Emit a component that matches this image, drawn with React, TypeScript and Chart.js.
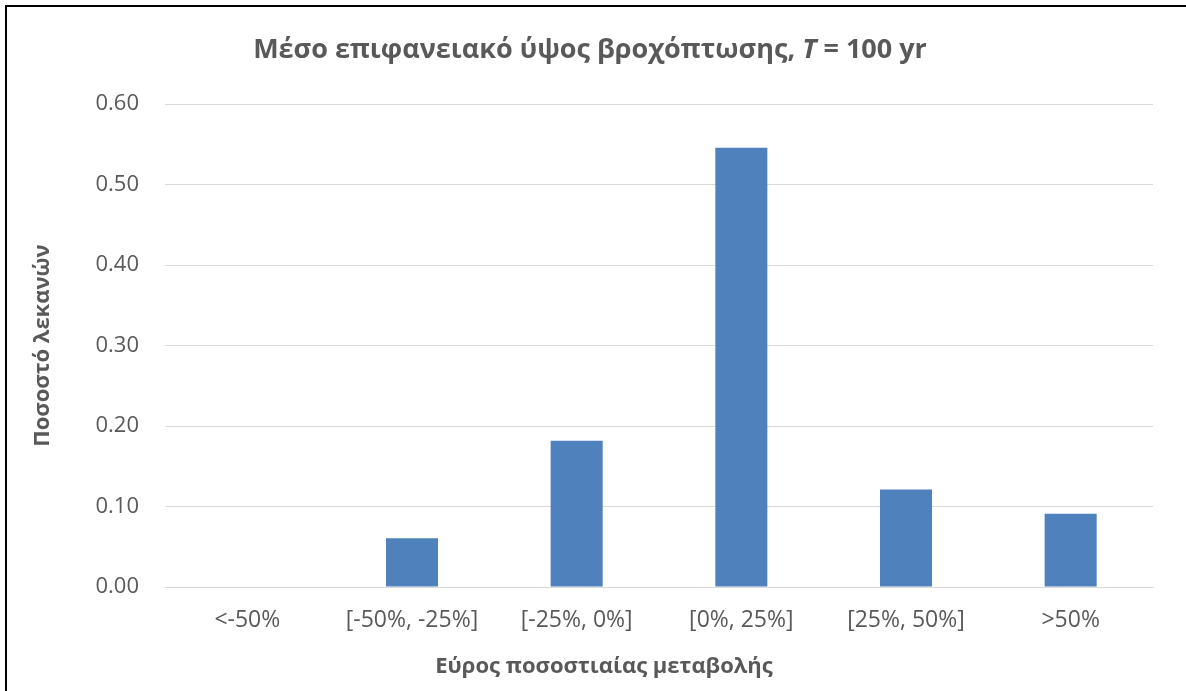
import React, { useEffect, useRef } from "react";
import { Chart, registerables } from "chart.js";

Chart.register(...registerables);

// Share of basins per range of percentage change
const categories = ["<-50%", "[-50%, -25%]", "[-25%, 0%]", "[0%, 25%]", "[25%, 50%]", ">50%"];
const basinShare = [0, 0.0606, 0.1818, 0.5455, 0.1212, 0.0909];
const yTickValues = [0, 0.1, 0.2, 0.3, 0.4, 0.5, 0.6];
const yTickLabels = ["0.00", "0.10", "0.20", "0.30", "0.40", "0.50", "0.60"];

const titleParts = [
  { text: "Μέσο επιφανειακό ύψος βροχόπτωσης, ", italic: false },
  { text: "T", italic: true },
  { text: " = 100 yr", italic: false },
];
const xAxisTitle = "Εύρος ποσοστιαίας μεταβολής";
const yAxisTitle = "Ποσοστό λεκανών";

const FONT = "'Open Sans', 'Noto Sans', sans-serif";
const TEXT = "#595959";
const BAR = "#4F81BD";
const GRID = "#D9D9D9";

const framePlugin = {
  id: "frame",
  beforeDraw(chart: any) {
    const { ctx, width, height } = chart;
    ctx.save();
    ctx.fillStyle = "#ffffff";
    ctx.fillRect(0, 0, width, height);
    ctx.restore();
  },
  afterDraw(chart: any) {
    const { ctx, width, height } = chart;
    ctx.save();
    // frame lines (top and left)
    ctx.fillStyle = "#000000";
    ctx.fillRect(5, 5, width - 5, 2);
    ctx.fillRect(5, 5, 2, height - 5);

    // chart title with italic T
    ctx.fillStyle = TEXT;
    ctx.textBaseline = "alphabetic";
    ctx.textAlign = "left";
    const size = 27;
    const fontFor = (italic: boolean) => `${italic ? "italic " : ""}bold ${size}px ${FONT}`;
    let total = 0;
    for (const p of titleParts) {
      ctx.font = fontFor(p.italic);
      total += ctx.measureText(p.text).width;
    }
    let x = 590 - total / 2;
    for (const p of titleParts) {
      ctx.font = fontFor(p.italic);
      ctx.fillText(p.text, x, 58);
      x += ctx.measureText(p.text).width;
    }

    // x-axis title
    ctx.font = `bold 22px ${FONT}`;
    ctx.textAlign = "center";
    ctx.fillText(xAxisTitle, 604, 673);
    ctx.restore();
  },
};

export default function App() {
  const canvasRef = useRef<HTMLCanvasElement | null>(null);

  useEffect(() => {
    if (!canvasRef.current) return;
    const chart = new Chart(canvasRef.current, {
      type: "bar",
      data: {
        labels: categories,
        datasets: [
          {
            data: basinShare,
            backgroundColor: BAR,
            borderWidth: 0,
            categoryPercentage: 1,
            barPercentage: 0.316,
          },
        ],
      },
      plugins: [framePlugin],
      options: {
        animation: false,
        responsive: false,
        layout: { padding: { left: 7, right: 33, top: 104, bottom: 0 } },
        plugins: {
          legend: { display: false },
          title: { display: false },
          tooltip: { enabled: false },
        },
        scales: {
          x: {
            grid: { display: false, drawTicks: false },
            border: { display: true, color: GRID, width: 1 },
            ticks: {
              color: TEXT,
              font: { family: FONT, size: 23 },
              padding: 20,
              maxRotation: 0,
              autoSkip: false,
            },
            afterFit: (scale: any) => {
              scale.height = 104;
            },
          },
          y: {
            min: 0,
            max: 0.6,
            afterBuildTicks: (scale: any) => {
              scale.ticks = yTickValues.map((v) => ({ value: v }));
            },
            grid: { color: GRID, lineWidth: 1, drawTicks: false },
            border: { display: false },
            ticks: {
              color: TEXT,
              font: { family: FONT, size: 22 },
              padding: 26,
              callback: (_v: any, i: number) => yTickLabels[i],
            },
            title: {
              display: true,
              text: yAxisTitle,
              color: TEXT,
              font: { family: FONT, size: 22, weight: "bold" },
              padding: { top: 23, bottom: 0 },
            },
            afterFit: (scale: any) => {
              scale.width = 158;
            },
          },
        },
      },
    });
    return () => chart.destroy();
  }, []);

  return (
    <div style={{ position: "absolute", left: 0, top: 0, width: 1186, height: 691, background: "#fff" }}>
      <canvas ref={canvasRef} width={1186} height={691} style={{ display: "block" }} />
    </div>
  );
}
